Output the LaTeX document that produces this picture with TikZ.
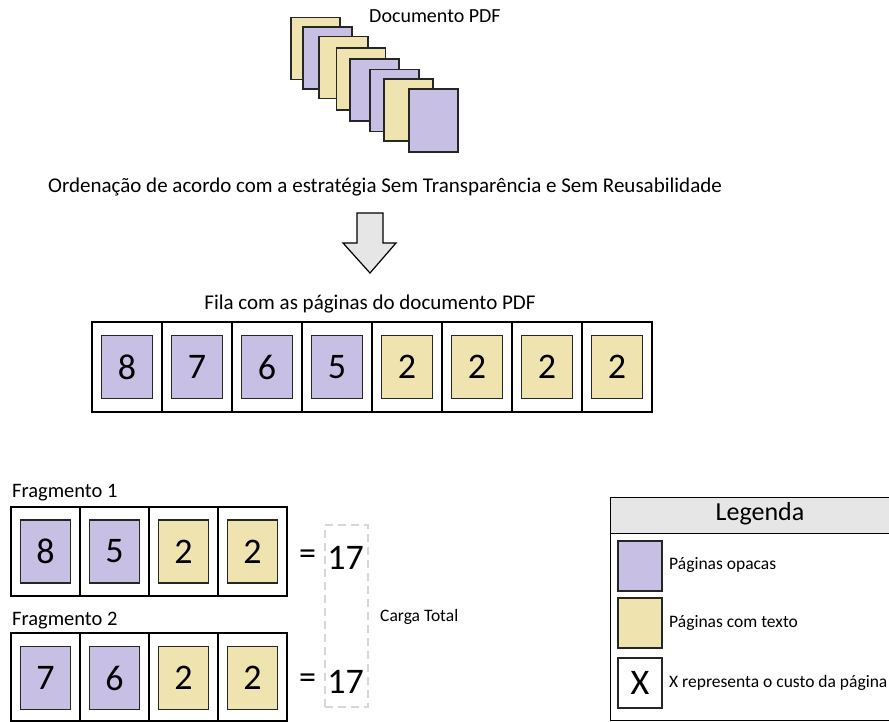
\documentclass[tikz,border=0pt]{standalone}
\usepackage{fontspec}
\setmainfont{Carlito}
\definecolor{opaca}{RGB}{200,191,229}
\definecolor{texto}{RGB}{239,227,175}
\definecolor{cinza}{RGB}{230,230,230}
\definecolor{borda}{RGB}{38,38,38}
\definecolor{tracejado}{RGB}{215,215,215}
\newcommand{\fs}[1]{\fontsize{#1}{#1}\selectfont}
\tikzset{
  sheet/.style={draw=borda, line width=1.6pt, minimum width=49pt, minimum height=62pt, inner sep=0pt},
  cell/.style={draw=black, line width=1.6pt, minimum width=70pt, minimum height=90pt, inner sep=0pt},
  fcell/.style={draw=black, line width=1.6pt, minimum width=69pt, minimum height=89pt, inner sep=0pt},
  pg/.style={draw=borda, line width=1.6pt, minimum width=51pt, minimum height=63pt, inner sep=0pt, font=\fs{36}},
  op/.style={pg, fill=opaca},
  tx/.style={pg, fill=texto},
  lbl/.style={inner sep=0pt, font=\fs{21}},
  small/.style={inner sep=0pt, font=\fs{17.5}},
  key/.style={draw=borda, line width=1.6pt, minimum width=44pt, minimum height=50pt, inner sep=0pt},
}
\begin{document}
\begin{tikzpicture}[x=1pt, y=-1pt]
\useasboundingbox (0,0) rectangle (889,722);
\clip (0,0) rectangle (889,722);

% stack of document pages
\node[sheet, fill=texto] (s1) at (315.5,48.5) {};
\node[sheet, fill=opaca] (s2) at (327.5,58) {};
\node[sheet, fill=texto] (s3) at (343.5,67.5) {};
\node[sheet, fill=texto] (s4) at (361,79) {};
\node[sheet, fill=opaca] (s5) at (374.5,90) {};
\node[sheet, fill=opaca] (s6) at (394.5,100.5) {};
\node[sheet, fill=texto] (s7) at (408.5,110) {};
\node[sheet, fill=opaca, minimum height=63pt] (s8) at (433.5,120.5) {};
\node[inner sep=0pt, font=\fs{20}, anchor=west] (doc) at (369,16) {Documento PDF};

\node[lbl] (ord) at (385,187) {Ordenação de acordo com a estratégia Sem Transparência e Sem Reusabilidade};

% block arrow
\draw[line width=1.2pt, fill=cinza, line join=miter]
  (357,213) -- (383,213) -- (383,243) -- (396,243) -- (370,273) -- (343,243) -- (357,243) -- cycle;

% queue
\node[lbl] (fila) at (370,304) {Fila com as páginas do documento PDF};
\foreach \i/\c/\v in {1/op/8, 2/op/7, 3/op/6, 4/op/5, 5/tx/2, 6/tx/2, 7/tx/2, 8/tx/2} {
  \node[cell] (q\i) at ({92+35+70*(\i-1)},367) {};
  \node[\c] (qp\i) at (q\i) {\v};
}

% fragment 1
\node[inner sep=0pt, font=\fs{20.5}, anchor=west] (f1) at (12,493) {Fragmento 1};
\foreach \i/\c/\v in {1/op/8, 2/op/5, 3/tx/2, 4/tx/2} {
  \node[fcell] (a\i) at ({11+34.5+69*(\i-1)},551.5) {};
  \node[pg, \c, minimum width=50pt] (ap\i) at (a\i) {\v};
}
\node[inner sep=0pt, font=\fs{34}, anchor=west] (eq1) at (299,557) {=};
\node[inner sep=0pt, font=\fs{36}] (t1) at (345.5,558) {17};

% fragment 2
\node[inner sep=0pt, font=\fs{20.5}, anchor=west] (f2) at (12,621) {Fragmento 2};
\foreach \i/\c/\v in {1/op/7, 2/op/6, 3/tx/2, 4/tx/2} {
  \node[fcell, minimum height=88pt] (b\i) at ({11+34.5+69*(\i-1)},677) {};
  \node[pg, \c, minimum width=50pt] (bp\i) at ({11+34.5+69*(\i-1)},678) {\v};
}
\node[inner sep=0pt, font=\fs{34}, anchor=west] (eq2) at (299,681) {=};
\node[inner sep=0pt, font=\fs{36}] (t2) at (345.5,682) {17};

% total load bracket
\node[draw=tracejado, line width=1.4pt, dash pattern=on 8pt off 5pt,
      minimum width=43pt, minimum height=182pt, inner sep=0pt] (carga) at (346.5,616) {};
\node[small, anchor=west] (ct) at (380,617) {Carga Total};

% legend
\node[draw=black, line width=1.4pt, minimum width=290pt, minimum height=223pt,
      anchor=north west, inner sep=0pt] (leg) at (610,497) {};
\node[draw=black, line width=1.4pt, fill=cinza, minimum width=290pt, minimum height=36pt,
      anchor=north west, inner sep=0pt] (legh) at (610,497) {};
\node[inner sep=0pt, font=\fs{26}] (legt) at (760,514) {Legenda};
\node[key, fill=opaca] (k1) at (640,566) {};
\node[small, anchor=west] (k1t) at (669,565) {Páginas opacas};
\node[key, fill=texto] (k2) at (640,623) {};
\node[small, anchor=west] (k2t) at (669,623) {Páginas com texto};
\node[key, fill=white, font=\fs{36}] (k3) at (640,683) {X};
\node[small, anchor=west] (k3t) at (669,683) {X representa o custo da página};
\end{tikzpicture}
\end{document}
